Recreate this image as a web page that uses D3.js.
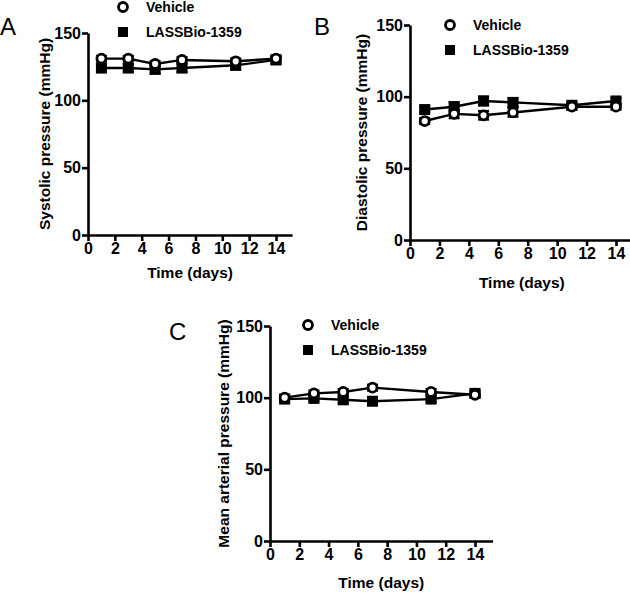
<!DOCTYPE html>
<html><head><meta charset="utf-8">
<script src="https://cdn.jsdelivr.net/npm/d3@7"></script>
<style>body{margin:0;background:#fff}svg{display:block}text{font-family:"Liberation Sans",Arial,sans-serif;fill:#000}</style>
</head><body>
<svg id="c" width="630" height="594"></svg>
<script>
const days = [1, 3, 5, 7, 11, 14];
const xTicks = [0, 2, 4, 6, 8, 10, 12, 14];
const yTicks = [0, 50, 100, 150];
const seriesNames = ["Vehicle", "LASSBio-1359"];

const systolicVehicle = [131, 131, 127, 130, 129, 131];
const systolicLass    = [124, 124, 123, 124, 126, 130];
const systolicVehErr  = [2, 2, 2, 2, 2, 2];
const systolicLassErr = [3, 3, 3, 3, 3, 3];

const diastolicVehicle = [83, 88, 87, 89, 93, 93];
const diastolicLass    = [91, 93, 97, 96, 94, 97];
const diastolicVehErr  = [2, 3, 3, 3, 2, 2];
const diastolicLassErr = [2, 3, 3, 3, 2, 2];

const mapVehicle = [100, 103, 104, 107, 104, 102];
const mapLass    = [99, 99.5, 98.5, 97.5, 99, 103];
const mapVehErr  = [2, 2, 2, 2, 2, 2];
const mapLassErr = [2, 2, 2, 2, 2, 2];

const panels = [
  {letter:"A", lx:0, ly:35, x0:88, x14:276, yTop:33, yBot:235, title:"Systolic pressure (mmHg)", tx:45,
   veh:systolicVehicle, lass:systolicLass, vehErr:systolicVehErr, lassErr:systolicLassErr, legX:123, legY:7, xTitleY:278},
  {letter:"B", lx:314, ly:35, x0:410, x14:616, yTop:25, yBot:240, title:"Diastolic pressure (mmHg)", tx:362,
   veh:diastolicVehicle, lass:diastolicLass, vehErr:diastolicVehErr, lassErr:diastolicLassErr, legX:450, legY:25, xTitleY:288},
  {letter:"C", lx:169, ly:340, x0:270, x14:475, yTop:326, yBot:541, title:"Mean arterial pressure (mmHg)", tx:224,
   veh:mapVehicle, lass:mapLass, vehErr:mapVehErr, lassErr:mapLassErr, legX:308, legY:325, xTitleY:588}
];

const svg = d3.select("#c");

panels.forEach(p => {
  const unit = (p.x14 - p.x0) / 14;
  const x = d3.scaleLinear().domain([0, 15.2]).range([p.x0, p.x0 + unit * 15.2]);
  const y = d3.scaleLinear().domain([0, 150]).range([p.yBot, p.yTop]);
  const g = svg.append("g");

  const xa = g.append("g").attr("transform", `translate(0,${p.yBot})`)
    .call(d3.axisBottom(x).tickValues(xTicks).tickSize(6).tickPadding(2).tickSizeOuter(0));
  const ya = g.append("g").attr("transform", `translate(${p.x0},0)`)
    .call(d3.axisLeft(y).tickValues(yTicks).tickSize(6).tickPadding(1).tickSizeOuter(0));
  [xa, ya].forEach(a => {
    a.select(".domain").attr("stroke", "#000").attr("stroke-width", 2.6);
    a.selectAll(".tick line").attr("stroke", "#000").attr("stroke-width", 2.6);
    a.selectAll(".tick text").style("font-size", "16px").style("font-weight", "bold").attr("fill", "#000");
  });

  g.append("text").attr("x", (x(0) + x(15.2)) / 2).attr("y", p.xTitleY).attr("text-anchor", "middle")
    .style("font-size", "15.5px").style("font-weight", "bold").text("Time (days)");
  g.append("text").attr("transform", `translate(${p.tx},${(p.yTop + p.yBot) / 2}) rotate(-90)`)
    .attr("text-anchor", "middle").attr("dy", "0.35em").style("font-size", "15.5px").style("font-weight", "bold").text(p.title);
  g.append("text").attr("x", p.lx).attr("y", p.ly).style("font-size", "24px").text(p.letter);

  const line = d3.line().x(d => x(d.d)).y(d => y(d.v));
  const mk = (vals, errs) => days.map((d, i) => ({d, v: vals[i], e: errs[i]}));
  const sets = [{data: mk(p.lass, p.lassErr), type: "sq"}, {data: mk(p.veh, p.vehErr), type: "ci"}];

  sets.forEach(s => {
    g.append("path").datum(s.data).attr("d", line).attr("fill", "none").attr("stroke", "#000").attr("stroke-width", 2.4);
    const eb = g.append("g");
    s.data.forEach(d => {
      eb.append("line").attr("x1", x(d.d)).attr("x2", x(d.d)).attr("y1", y(d.v - d.e)).attr("y2", y(d.v + d.e)).attr("stroke", "#000").attr("stroke-width", 2);
      [d.v - d.e, d.v + d.e].forEach(v => eb.append("line").attr("x1", x(d.d) - 5.5).attr("x2", x(d.d) + 5.5).attr("y1", y(v)).attr("y2", y(v)).attr("stroke", "#000").attr("stroke-width", 2.2));
    });
  });
  sets.forEach(s => {
    if (s.type === "sq") {
      g.selectAll(null).data(s.data).join("rect").attr("x", d => x(d.d) - 5.5).attr("y", d => y(d.v) - 5.5)
        .attr("width", 11).attr("height", 11).attr("fill", "#000");
    } else {
      g.selectAll(null).data(s.data).join("circle").attr("cx", d => x(d.d)).attr("cy", d => y(d.v)).attr("r", 4.5)
        .attr("fill", "#fff").attr("stroke", "#000").attr("stroke-width", 2.8);
    }
  });

  // legend
  g.append("circle").attr("cx", p.legX).attr("cy", p.legY).attr("r", 4.5).attr("fill", "#fff").attr("stroke", "#000").attr("stroke-width", 2.8);
  g.append("rect").attr("x", p.legX - 5).attr("y", p.legY + 25 - 5).attr("width", 10).attr("height", 10).attr("fill", "#000");
  g.append("text").attr("x", p.legX + 23).attr("y", p.legY).attr("dy", "0.35em").style("font-size", "14px").style("font-weight", "bold").text(seriesNames[0]);
  g.append("text").attr("x", p.legX + 23).attr("y", p.legY + 25).attr("dy", "0.35em").style("font-size", "14px").style("font-weight", "bold").text(seriesNames[1]);
});
</script>
</body></html>
